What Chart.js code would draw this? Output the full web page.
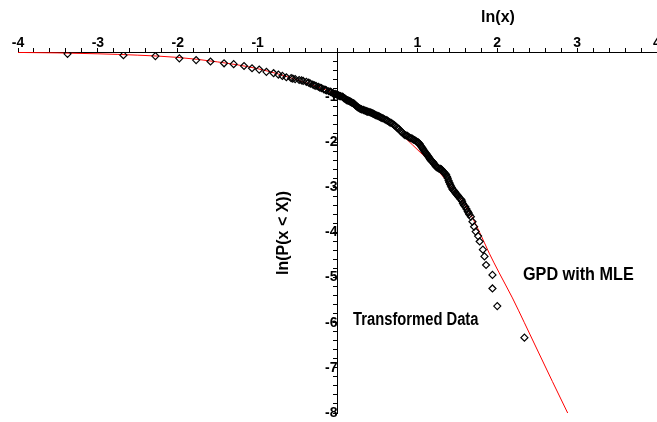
<!DOCTYPE html>
<html>
<head>
    <title>ln P(x &lt; X) vs ln(x)</title>
    <script src="https://cdn.jsdelivr.net/npm/chart.js"></script>
    <style>
        body { margin: 0; background: #fff; }
        #plot { display: block; }
    </style>
</head>
<body>
    <canvas id="plot" width="657" height="422"></canvas>

    <script>
        // Transformed data (ln x, ln P)
        const dataX = [
            -3.38, -2.68, -2.28, -1.98, -1.77, -1.59, -1.42, -1.30, -1.17, -1.07,
            -0.98, -0.89, -0.80, -0.74, -0.69, -0.64, -0.58, -0.56, -0.53, -0.48,
            -0.45, -0.43, -0.39, -0.36, -0.34, -0.31, -0.29, -0.27, -0.24, -0.22,
            -0.20, -0.17, -0.15, -0.14, -0.11, -0.09, -0.08, -0.06, -0.05, -0.03,
            -0.01,
            0.00, 0.01, 0.02, 0.03, 0.04, 0.06, 0.07, 0.08, 0.09, 0.10,
            0.11, 0.12, 0.13, 0.14, 0.15, 0.16, 0.17, 0.18, 0.19, 0.20,
            0.21, 0.22, 0.23, 0.24, 0.25, 0.26, 0.275, 0.29, 0.30, 0.32,
            0.33, 0.345, 0.36, 0.37, 0.38, 0.395, 0.41, 0.425, 0.44, 0.45,
            0.46, 0.47, 0.48, 0.495, 0.51, 0.525, 0.54, 0.555, 0.57, 0.59,
            0.61, 0.625, 0.64, 0.655, 0.67, 0.69, 0.71, 0.725, 0.74, 0.755,
            0.77, 0.785, 0.80, 0.815, 0.83, 0.845, 0.86, 0.875, 0.89, 0.905,
            0.92, 0.935, 0.95, 0.965, 0.98, 0.995, 1.01, 1.02, 1.03, 1.04,
            1.05, 1.06, 1.07, 1.08, 1.09, 1.10, 1.11, 1.12, 1.13, 1.14,
            1.15, 1.16, 1.17, 1.18, 1.19, 1.20, 1.21, 1.22, 1.23, 1.24,
            1.25, 1.265, 1.28, 1.29, 1.30, 1.31, 1.32, 1.33, 1.34, 1.35,
            1.36, 1.37, 1.38, 1.39, 1.40, 1.41, 1.42, 1.43, 1.44, 1.45,
            1.46, 1.47, 1.48, 1.49, 1.50, 1.51, 1.52, 1.535, 1.55, 1.56,
            1.57, 1.585, 1.60, 1.615, 1.63, 1.64, 1.65, 1.67, 1.69, 1.71,
            1.73, 1.76, 1.78, 1.82, 1.84, 1.86, 1.94, 1.94, 2.00, 2.34
        ];
        const dataY = [
            -0.04, -0.07, -0.09, -0.14, -0.18, -0.21, -0.25, -0.27, -0.31, -0.36,
            -0.39, -0.44, -0.47, -0.50, -0.53, -0.56, -0.58, -0.59, -0.60, -0.62,
            -0.63, -0.64, -0.66, -0.68, -0.70, -0.72, -0.74, -0.75, -0.77, -0.79,
            -0.80, -0.83, -0.84, -0.85, -0.87, -0.88, -0.89, -0.91, -0.92, -0.93,
            -0.94,
            -0.95, -0.96, -0.97, -0.98, -0.98, -0.99, -1.00, -1.02, -1.03, -1.04,
            -1.06, -1.07, -1.07, -1.08, -1.09, -1.10, -1.11, -1.12, -1.13, -1.14,
            -1.15, -1.17, -1.19, -1.20, -1.22, -1.23, -1.25, -1.26, -1.27, -1.28,
            -1.29, -1.30, -1.31, -1.32, -1.32, -1.33, -1.34, -1.35, -1.36, -1.37,
            -1.38, -1.39, -1.40, -1.41, -1.42, -1.43, -1.45, -1.46, -1.47, -1.49,
            -1.51, -1.52, -1.54, -1.56, -1.57, -1.59, -1.62, -1.64, -1.67, -1.69,
            -1.71, -1.74, -1.77, -1.79, -1.82, -1.84, -1.85, -1.86, -1.88, -1.90,
            -1.91, -1.92, -1.94, -1.95, -1.97, -1.99, -2.00, -2.02, -2.04, -2.07,
            -2.10, -2.12, -2.15, -2.18, -2.20, -2.23, -2.25, -2.27, -2.30, -2.32,
            -2.35, -2.38, -2.40, -2.42, -2.43, -2.45, -2.48, -2.50, -2.53, -2.55,
            -2.56, -2.58, -2.59, -2.59, -2.60, -2.62, -2.65, -2.66, -2.68, -2.70,
            -2.72, -2.76, -2.80, -2.85, -2.89, -2.93, -2.97, -3.00, -3.04, -3.06,
            -3.08, -3.10, -3.13, -3.15, -3.17, -3.19, -3.22, -3.25, -3.27, -3.31,
            -3.36, -3.40, -3.43, -3.48, -3.53, -3.56, -3.60, -3.65, -3.76, -3.87,
            -3.98, -4.08, -4.20, -4.38, -4.53, -4.72, -4.94, -5.24, -5.63, -6.33
        ];

        // GPD with MLE curve
        const fitX = [-4, -3.5, -3, -2.5, -2, -1.5, -1, -0.5, 0, 0.3, 0.65, 0.94,
                      1.19, 1.36, 1.52, 1.67, 1.78, 1.9, 2.02, 2.19, 2.34, 2.52, 2.69, 2.89];
        const fitY = [-0.01, -0.02, -0.04, -0.07, -0.12, -0.22, -0.37, -0.62, -0.95, -1.23, -1.60, -2.06,
                      -2.5, -2.84, -3.21, -3.61, -4.0, -4.46, -4.88, -5.45, -6.0, -6.67, -7.3, -8.03];

        const xRange = [-4, 4];
        const yRange = [-8, 0];
        const tickStep = 0.2;

        const tickFont = { family: "'Liberation Sans', Arial, sans-serif", size: 14, weight: 'bold' };

        // only whole numbers get a label, zero stays blank
        function wholeLabel(v) {
            const r = Math.round(v);
            return (Math.abs(v - r) < 1e-6 && r !== 0) ? String(r) : '';
        }

        // free text on the plot (squeeze narrows the heavy Maple lettering)
        const notes = [
            { text: 'ln(x)', px: 498, py: 18, align: 'center', size: 16, squeeze: 1 },
            { text: 'ln(P(x < X))', px: 284, py: 233, align: 'center', size: 16, squeeze: 1, rotate: true },
            { text: 'Transformed Data', px: 353, py: 320, align: 'left', size: 18, squeeze: 0.82 },
            { text: 'GPD with MLE', px: 523, py: 275, align: 'left', size: 18, squeeze: 0.9 }
        ];

        const notesPlugin = {
            id: 'notes',
            afterDraw(chart) {
                const ctx = chart.ctx;
                notes.forEach(n => {
                    ctx.save();
                    ctx.fillStyle = '#000';
                    ctx.font = 'bold ' + n.size + "px 'Liberation Sans', Arial, sans-serif";
                    ctx.textAlign = n.align;
                    ctx.textBaseline = 'middle';
                    ctx.translate(n.px, n.py);
                    if (n.rotate) ctx.rotate(-Math.PI / 2);
                    ctx.scale(n.squeeze, 1);
                    ctx.fillText(n.text, 0, 0);
                    ctx.restore();
                });
            }
        };

        const ctx = document.getElementById('plot').getContext('2d');
        new Chart(ctx, {
            type: 'scatter',
            data: {
                datasets: [
                    {
                        label: 'Transformed Data',
                        data: dataX.map((x, i) => ({ x: x, y: dataY[i] })),
                        pointStyle: 'rectRot',
                        pointRadius: 3.5,
                        borderWidth: 1.2,
                        borderColor: '#000',
                        backgroundColor: 'rgba(0,0,0,0)'
                    },
                    {
                        label: 'GPD with MLE',
                        data: fitX.map((x, i) => ({ x: x, y: fitY[i] })),
                        showLine: true,
                        borderColor: '#ff0000',
                        borderWidth: 1,
                        pointRadius: 0,
                        cubicInterpolationMode: 'monotone'
                    }
                ]
            },
            options: {
                responsive: false,
                animation: false,
                layout: { autoPadding: false, padding: { left: 18, right: 0, top: 0, bottom: 9 } },
                plugins: {
                    legend: { display: false },
                    tooltip: { enabled: false }
                },
                scales: {
                    x: {
                        type: 'linear',
                        position: 'top',
                        min: xRange[0],
                        max: xRange[1],
                        grid: { drawOnChartArea: false, tickLength: 4, color: '#000' },
                        border: { color: '#000', width: 1 },
                        ticks: {
                            stepSize: tickStep,
                            autoSkip: false,
                            maxRotation: 0,
                            padding: -4,
                            color: '#000',
                            font: tickFont,
                            callback: wholeLabel
                        },
                        afterFit: s => { s.height = 52; s.paddingLeft = 0; s.paddingRight = 0; }
                    },
                    y: {
                        type: 'linear',
                        position: { x: 0 },
                        min: yRange[0],
                        max: yRange[1],
                        grid: { drawOnChartArea: false, tickLength: 4, color: '#000' },
                        border: { color: '#000', width: 1 },
                        ticks: {
                            stepSize: tickStep,
                            autoSkip: false,
                            padding: 2,
                            color: '#000',
                            font: tickFont,
                            callback: wholeLabel
                        },
                        afterFit: s => { s.paddingTop = 0; s.paddingBottom = 0; }
                    }
                }
            },
            plugins: [notesPlugin]
        });
    </script>
</body>
</html>
